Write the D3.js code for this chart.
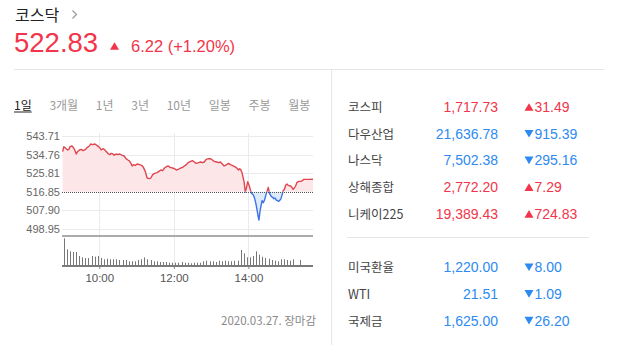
<!DOCTYPE html>
<html>
<head>
<meta charset="utf-8">
<script src="https://cdn.jsdelivr.net/npm/d3@7"></script>
<style>
  body { margin: 0; background: #fff; }
  svg { display: block; }
</style>
</head>
<body>
<div id="chart"></div>
<script>
// header values
const INDEX_NAME = "코스닥";
const INDEX_VALUE = 522.83;
const INDEX_CHANGE = "6.22 (+1.20%)";
const BASELINE = 516.85; // dotted reference line (previous close)
const CLOSE_TEXT = "2020.03.27. 장마감";

const TABS = ["1일", "3개월", "1년", "3년", "10년", "일봉", "주봉", "월봉"];
const Y_TICKS = [498.95, 507.9, 516.85, 525.81, 534.76, 543.71];
const X_TICKS = ["10:00", "12:00", "14:00"];

// intraday index: minutes after 09:00 and value
const PRICE_MINUTE = [
  1, 3, 6, 9, 11, 13, 16, 18, 20, 23, 25, 28, 31, 34, 38, 41, 44, 46, 49, 53,
  56, 59, 61, 63, 66, 68, 70, 72, 75, 77, 79, 82, 84, 87, 90, 93, 97, 100, 103, 106,
  108, 111, 113, 115, 118, 121, 125, 128, 131, 134, 137, 141, 143, 146, 149,
  153, 156, 159, 162, 165, 168, 171, 174, 178, 181, 184, 187, 191, 194, 197, 200,
  203, 207, 210, 213, 216, 220, 223, 226, 229, 232, 236, 239, 242, 245, 249, 252,
  255, 258, 261, 265, 268, 271, 274, 278,
  282, 284, 286, 288, 290, 293, 295, 297, 299, 301, 303, 305, 308, 310, 312, 314,
  316, 317, 319, 322, 324, 326, 328, 330, 332, 334, 337, 339, 341, 343, 345, 347,
  349, 352, 354, 356, 358, 360, 362, 364, 368, 370, 372, 374, 376, 378, 381, 384,
  387, 389, 392, 397, 404,
];
const PRICE_VALUE = [
  536.14, 538.56, 537.76, 536.95, 537.27, 538.56, 538.88, 538.24, 537.27, 535.02,
  536.14, 536.95, 537.27, 536.63, 537.27, 538.24, 538.88, 539.85, 539.52, 539.85,
  539.2, 538.56, 537.92, 536.95, 537.59, 537.27, 536.63, 535.98, 535.02, 534.69,
  535.34, 535.02, 534.38, 535.02, 534.69, 535.02, 534.38, 534.05, 532.76, 532.12,
  531.8, 530.51, 529.22, 529.87, 529.55, 530.19, 529.87, 529.55, 528.58, 526.65,
  523.43, 523.11, 523.43, 525.04, 525.68,
  526.0, 526.65, 527.29, 526.97, 528.26, 528.9, 529.22, 528.58, 528.26, 527.93,
  527.29, 527.61, 528.26, 528.58, 529.22, 529.87, 530.83, 531.48, 531.8, 531.15,
  530.51, 530.83, 531.15, 530.83, 531.15, 532.44, 532.76, 532.76, 532.12, 531.48,
  531.15, 530.83, 531.15, 530.19, 529.22, 529.87, 530.51, 529.87, 529.55, 528.9,
  528.1, 527.29, 527.93, 527.29, 525.68, 521.66, 516.67, 518.92, 521.66, 520.05,
  517.96, 516.02, 515.22, 513.61, 511.2, 507.97, 504.43, 503.15, 507.97, 512.48,
  511.51, 512.8, 515.06, 516.99, 518.92, 516.02, 514.41, 514.09, 513.45, 513.77,
  512.8, 512.48, 512.16, 513.13, 515.06, 517.31, 517.96, 519.89, 520.53, 519.89,
  519.57, 518.92, 517.96, 518.6, 519.57, 521.17, 521.82, 521.82, 522.14, 522.78,
  522.78, 522.78, 522.83,
];

// 5-minute volume bars from 09:00 (null = no bar)
const VOLUME = [
  267, 157, 137, 130, 130, 90, 77, 70, 70, 90, 83, 90, 70, 57, 63, 57, 57, 57, 50, 50,
  50, 37, 37, 37, 50, 57, 77, 57, 50, 37, 37, 30, 30, 30, 23, 23, 23, 23, 30, 23,
  23, 17, 23, 23, 23, 37, 43, 37, 37, 30, 43, 37, 43, 37, 37, 43, 43, 150, 117, 77,
  77, 90, 137, 103, 83, 70, 63, 50, 43, 37, 57, 57, 50, 43, 57, null, 50,
];

// world markets table
const MARKET_NAMES = ["코스피", "다우산업", "나스닥", "상해종합", "니케이225", "미국환율", "WTI", "국제금"];
const MARKET_VALUES = [1717.73, 21636.78, 7502.38, 2772.2, 19389.43, 1220.0, 21.51, 1625.0];
const MARKET_CHANGES = [31.49, -915.39, -295.16, 7.29, 724.83, -8.0, -1.09, -26.2];

// styles
const FONT_KR = "'Noto Sans CJK KR', 'Noto Sans', sans-serif";
const FONT_NUM = "'Liberation Sans', Arial, sans-serif";
const FONT_AXIS = "'Liberation Sans Narrow', 'Liberation Sans', sans-serif";
const RED = "#f2354a";
const BLUE = "#2d8af0";
const LINE_RED = "#e0464f";
const LINE_BLUE = "#3d72e6";
const GRID = "#ebebeb";

const PLOT = { left: 62, right: 313, top: 133, bottom: 236, volTop: 236, volBottom: 265 };

const svg = d3.select("#chart").append("svg").attr("width", 618).attr("height", 351);

// up / down triangle
const tri = (cx, cy, up, size = 9) => {
  const h = size * 0.85;
  return up
    ? `M${cx - size / 2},${cy + h / 2}L${cx},${cy - h / 2}L${cx + size / 2},${cy + h / 2}Z`
    : `M${cx - size / 2},${cy - h / 2}L${cx},${cy + h / 2}L${cx + size / 2},${cy - h / 2}Z`;
};

// Header
svg.append("text")
  .text(INDEX_NAME)
  .attr("x", 15).attr("y", 21)
  .attr("font-family", FONT_KR).attr("font-size", "16px").attr("fill", "#222");
svg.append("path")
  .attr("d", "M72.5,10.5L76.5,14.5L72.5,18.5")
  .attr("fill", "none").attr("stroke", "#999").attr("stroke-width", 1.2);
svg.append("text")
  .text(d3.format(".2f")(INDEX_VALUE))
  .attr("x", 14).attr("y", 51.5)
  .attr("font-family", FONT_NUM).attr("font-size", "27.5px").attr("fill", RED);
svg.append("path").attr("d", tri(114.5, 46, true, 9)).attr("fill", RED);
svg.append("text")
  .text(INDEX_CHANGE)
  .attr("x", 131).attr("y", 52)
  .attr("font-family", FONT_NUM).attr("font-size", "16.5px").attr("fill", RED);

// separators
svg.append("line")
  .attr("x1", 14).attr("x2", 604).attr("y1", 69.5).attr("y2", 69.5)
  .attr("stroke", "#e6e6e6");
svg.append("line")
  .attr("x1", 331.5).attr("x2", 331.5).attr("y1", 70).attr("y2", 345)
  .attr("stroke", "#e6e6e6");

// Tabs
let tabX = 14;
TABS.forEach((t, i) => {
  const txt = svg.append("text")
    .text(t)
    .attr("x", tabX).attr("y", 109.5)
    .attr("font-family", FONT_KR).attr("font-size", "12px")
    .attr("fill", i === 0 ? "#222" : "#9a9a9a");
  const w = txt.node().getComputedTextLength();
  if (i === 0) {
    svg.append("line")
      .attr("x1", tabX).attr("x2", tabX + w).attr("y1", 112).attr("y2", 112)
      .attr("stroke", "#222");
  }
  tabX += w + 17.7;
});

// Scales
const t0 = new Date(2020, 2, 27, 9, 0);
const atMinute = (m) => new Date(t0.getTime() + m * 60000);
const parseHM = d3.timeParse("%Y-%m-%d %H:%M");
const x = d3.scaleTime()
  .domain([t0, atMinute(d3.max(PRICE_MINUTE))])
  .range([PLOT.left, PLOT.right]);
const y = d3.scaleLinear().domain([498.95, 543.71]).range([228.7, 136]);
const vy = d3.scaleLinear().domain([0, 300]).range([PLOT.volBottom, PLOT.volBottom - 30]);

const price = PRICE_MINUTE.map((m, i) => ({ t: atMinute(m), v: PRICE_VALUE[i] }));
const xTickDates = X_TICKS.map((s) => parseHM("2020-03-27 " + s));
const crisp = (v) => Math.round(v) + 0.5;

// Gridlines
svg.append("g")
  .selectAll("line")
  .data(Y_TICKS.filter((d) => d !== BASELINE))
  .join("line")
  .attr("x1", PLOT.left).attr("x2", PLOT.right)
  .attr("y1", (d) => crisp(y(d))).attr("y2", (d) => crisp(y(d)))
  .attr("stroke", GRID);
svg.append("g")
  .selectAll("line")
  .data(xTickDates)
  .join("line")
  .attr("x1", (d) => crisp(x(d))).attr("x2", (d) => crisp(x(d)))
  .attr("y1", PLOT.top).attr("y2", PLOT.volBottom)
  .attr("stroke", GRID);

// Y axis labels
svg.append("g")
  .attr("transform", `translate(${PLOT.left},0)`)
  .call(d3.axisLeft(y).tickValues(Y_TICKS).tickFormat(d3.format(".2f")).tickSize(0).tickPadding(2))
  .call((g) => g.select(".domain").remove())
  .call((g) => g.selectAll("text")
    .attr("font-family", FONT_AXIS).attr("font-size", "11px").attr("fill", "#666"));

// clip above / below the baseline
const baseY = y(BASELINE);
const defs = svg.append("defs");
defs.append("clipPath").attr("id", "clipUp")
  .append("rect").attr("x", PLOT.left).attr("y", 100)
  .attr("width", PLOT.right - PLOT.left).attr("height", baseY - 100);
defs.append("clipPath").attr("id", "clipDown")
  .append("rect").attr("x", PLOT.left).attr("y", baseY)
  .attr("width", PLOT.right - PLOT.left).attr("height", PLOT.bottom - baseY);

const area = d3.area().x((d) => x(d.t)).y0(baseY).y1((d) => y(d.v));
const line = d3.line().x((d) => x(d.t)).y((d) => y(d.v));

[["clipUp", "#fde6e8", LINE_RED], ["clipDown", "#deebfa", LINE_BLUE]].forEach(([id, fill, stroke]) => {
  const g = svg.append("g").attr("clip-path", `url(#${id})`);
  g.append("path").datum(price).attr("d", area).attr("fill", fill);
  g.append("path").datum(price).attr("d", line)
    .attr("fill", "none").attr("stroke", stroke).attr("stroke-width", 1.4)
    .attr("stroke-linejoin", "round");
});

// baseline (dotted)
svg.append("line")
  .attr("x1", PLOT.left).attr("x2", PLOT.right)
  .attr("y1", crisp(baseY)).attr("y2", crisp(baseY))
  .attr("stroke", "#555").attr("stroke-dasharray", "1,1");

// Volume panel
svg.append("line")
  .attr("x1", PLOT.left).attr("x2", PLOT.right).attr("y1", PLOT.volTop).attr("y2", PLOT.volTop)
  .attr("stroke", "#ababab").attr("stroke-width", 2);

svg.append("g")
  .selectAll("line")
  .data(VOLUME.map((v, k) => ({ t: atMinute(k * 5 + 2.5), v })).filter((d) => d.v != null))
  .join("line")
  .attr("x1", (d) => crisp(x(d.t))).attr("x2", (d) => crisp(x(d.t)))
  .attr("y1", PLOT.volBottom).attr("y2", (d) => vy(d.v))
  .attr("stroke", "#777");

svg.append("line")
  .attr("x1", PLOT.left).attr("x2", PLOT.right)
  .attr("y1", PLOT.volBottom + 1).attr("y2", PLOT.volBottom + 1)
  .attr("stroke", "#7a7a7a").attr("stroke-width", 2);

// X axis
svg.append("g")
  .attr("transform", `translate(0,${PLOT.volBottom + 2})`)
  .call(d3.axisBottom(x).tickValues(xTickDates).tickFormat(d3.timeFormat("%H:%M")).tickSize(2).tickPadding(5))
  .call((g) => g.select(".domain").remove())
  .call((g) => g.selectAll("line").attr("stroke", "#888"))
  .call((g) => g.selectAll("text")
    .attr("font-family", FONT_AXIS).attr("font-size", "11.5px").attr("fill", "#555"));

// close time
svg.append("text")
  .text(CLOSE_TEXT)
  .attr("x", 316).attr("y", 324.5)
  .attr("text-anchor", "end")
  .attr("font-family", FONT_KR).attr("font-size", "11.5px").attr("fill", "#888");

// World markets table
const rowY = (i) => 112 + 26.7 * (i < 5 ? i : i + 1);
const fmt = d3.format(",.2f");
const rows = svg.append("g")
  .selectAll("g")
  .data(MARKET_NAMES.map((n, i) => ({ name: n, value: MARKET_VALUES[i], change: MARKET_CHANGES[i] })))
  .join("g")
  .attr("transform", (d, i) => `translate(0,${rowY(i)})`);

rows.append("text")
  .text((d) => d.name)
  .attr("x", 348)
  .attr("font-family", FONT_KR).attr("font-size", "12.5px").attr("fill", "#444");
rows.append("text")
  .text((d) => fmt(d.value))
  .attr("x", 498).attr("text-anchor", "end")
  .attr("font-family", FONT_NUM).attr("font-size", "14px")
  .attr("fill", (d) => (d.change >= 0 ? RED : BLUE));
rows.append("path")
  .attr("d", (d) => tri(529, -5, d.change >= 0, 9))
  .attr("fill", (d) => (d.change >= 0 ? RED : BLUE));
rows.append("text")
  .text((d) => fmt(Math.abs(d.change)))
  .attr("x", 534.5)
  .attr("font-family", FONT_NUM).attr("font-size", "14px")
  .attr("fill", (d) => (d.change >= 0 ? RED : BLUE));

svg.append("line")
  .attr("x1", 347).attr("x2", 589).attr("y1", 237.5).attr("y2", 237.5)
  .attr("stroke", "#e6e6e6");
</script>
</body>
</html>
